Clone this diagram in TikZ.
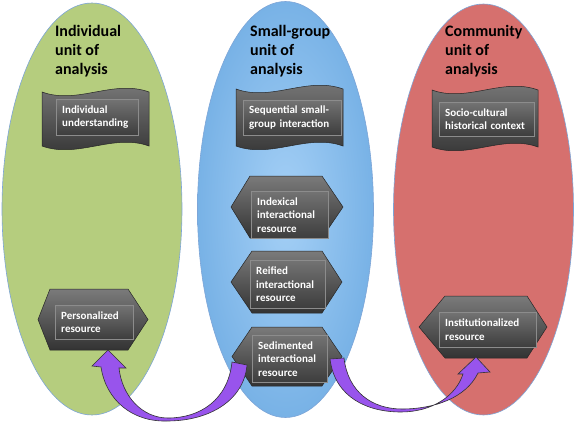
\documentclass[tikz,border=0pt]{standalone}
\usepackage{fontspec}
\setmainfont{Carlito}
\usepackage{xcolor}

\definecolor{unitgreen}{RGB}{181,205,126}
\definecolor{unitblue}{RGB}{120,178,230}
\definecolor{unitbluelight}{RGB}{165,208,246}
\definecolor{unitred}{RGB}{214,112,110}
\definecolor{rimblue}{RGB}{125,165,215}
\definecolor{arrowpurple}{RGB}{152,84,236}

\tikzset{
  unit/.style={draw=rimblue, line width=0.6pt},
  unittitle/.style={font=\fontsize{16}{19}\selectfont\bfseries, align=left,
    anchor=north west, inner sep=0pt},
  shapebox/.style={draw=black!85, line width=0.5pt, top color=black!52, bottom color=black!80},
  textbox/.style={draw=black!90, line width=0.45pt, double=black!45, double distance=0.5pt,
    top color=black!55, bottom color=black!76, anchor=north west, inner xsep=6pt, inner ysep=0pt,
    text=white, align=left, font=\fontsize{11}{13.5}\selectfont\bfseries,
    execute at begin node={\hyphenpenalty=10000\relax}},
  bigarrow/.style={draw=black!80, line width=0.6pt, fill=arrowpurple}
}

% wave shape: x0, x1, top y, bottom y
\newcommand{\waveshape}[4]{%
  \path[shapebox] (#1,#3) .. controls ({#1+(#2-#1)/3},{#3+13}) and ({#1+2*(#2-#1)/3},{#3-13}) .. (#2,#3)
    -- (#2,#4) .. controls ({#1+2*(#2-#1)/3},{#4-13}) and ({#1+(#2-#1)/3},{#4+13}) .. (#1,#4) -- cycle;}
% hexagon: left x, top-left x, top-right x, right x, top y, bottom y
\newcommand{\hexshape}[6]{%
  \path[shapebox] (#1,{(#5+#6)/2}) -- (#2,#5) -- (#3,#5) -- (#4,{(#5+#6)/2})
    -- (#3,#6) -- (#2,#6) -- cycle;}

\begin{document}
\begin{tikzpicture}[x=1pt, y=-1pt]
\useasboundingbox (0,0) rectangle (576,428);
% Units of analysis
\path[unit, fill=unitgreen] (92,209) ellipse [x radius=90pt, y radius=206pt];
\path[unit, inner color=unitbluelight, outer color=unitblue] (285.5,209.5) ellipse [x radius=88pt, y radius=208pt];
\path[unit, fill=unitred] (483.5,209.5) ellipse [x radius=90pt, y radius=205.5pt];
\node[unittitle] (t-ind) at (55,25) {Individual\\unit of\\analysis};
\node[unittitle] (t-sg) at (250,25) {Small-group\\unit of\\analysis};
\node[unittitle] (t-com) at (445,25) {Community\\unit of\\analysis};

% Contexts (wave shapes)
\waveshape{42}{149}{92}{146}
\node[textbox, minimum width=82pt, minimum height=36pt, text width=70pt] (understanding) at (56,99) {Individual\\understanding};
\waveshape{236}{343}{89}{146}
\node[textbox, minimum width=98pt, minimum height=35pt, text width=86pt] (interaction) at (243,100) {Sequential small-\\group interaction};
\waveshape{432}{538}{90}{147}
\node[textbox, minimum width=95pt, minimum height=34pt, text width=83pt] (context) at (439,102) {Socio-cultural\\historical context};

% Resources (hexagons)
\hexshape{38}{50}{128}{148}{289}{350}
\node[textbox, minimum width=78pt, minimum height=34pt, text width=66pt] (personalized) at (55,305) {Personalized\\resource};
\hexshape{231}{250}{322}{343}{176}{238}
\node[textbox, minimum width=77pt, minimum height=47pt, text width=65pt] (indexical) at (251,191) {Indexical\\interactional\\resource};
\hexshape{231}{252}{322}{342}{251}{313}
\node[textbox, minimum width=75pt, minimum height=48pt, text width=63pt] (reified) at (250,260) {Reified\\interactional\\resource};
\hexshape{232}{252}{322}{342}{327}{386}
\node[textbox, minimum width=75pt, minimum height=47pt, text width=63pt] (sedimented) at (252,335) {Sedimented\\interactional\\resource};
\hexshape{419}{445}{527}{547}{296}{358}
\node[textbox, minimum width=97pt, minimum height=35pt, text width=85pt] (institutionalized) at (439,312) {Institutionalized\\resource};

% Curved arrows
\coordinate (tipA) at (108,350);
\coordinate (tipB) at (476,357);
\path[bigarrow] (232,362) .. controls (228,400) and (200,418) .. (168,418)
  .. controls (142,418) and (122,396) .. (119,368) -- (126,368) -- (tipA) -- (92,366) -- (101,367)
  .. controls (106,400) and (132,422) .. (167,421)
  .. controls (210,421) and (244,400) .. (247,365) -- cycle;
\path[bigarrow] (330,359) .. controls (335,398) and (368,412) .. (401,412)
  .. controls (432,412) and (456,396) .. (463,374) -- (458,374) -- (tipB) -- (490,372) -- (478,373)
  .. controls (466,398) and (434,409) .. (402,409)
  .. controls (372,409) and (348,392) .. (344,358) -- cycle;
\end{tikzpicture}
\end{document}
